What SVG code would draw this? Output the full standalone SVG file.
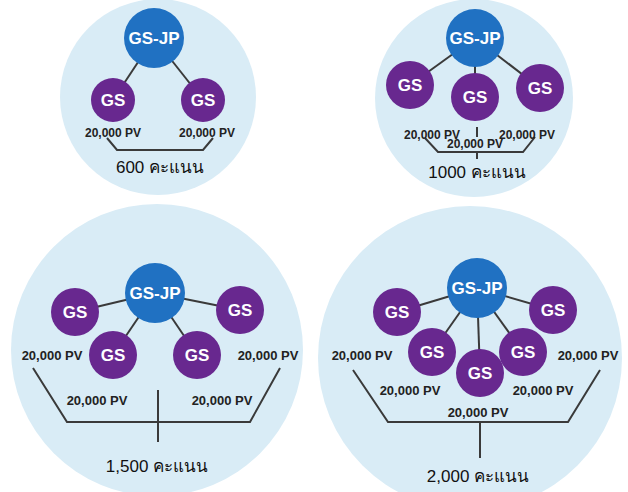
<svg xmlns="http://www.w3.org/2000/svg" width="628" height="492" viewBox="0 0 628 492">
<style>
.bg{fill:#d9ecf6}
.jp{fill:#2071c2}
.gs{fill:#68288f}
.ln{stroke:#3a3a3a;stroke-width:2;fill:none}
.nt{font-family:"Liberation Sans",Arial,sans-serif;font-weight:bold;fill:#ffffff;text-anchor:middle}
.pv{font-family:"Liberation Sans",Arial,sans-serif;font-weight:bold;fill:#222;text-anchor:middle;font-size:12px}
.pb{font-size:13px}
.sc{font-family:"Liberation Sans","Noto Sans",sans-serif;fill:#111;text-anchor:middle;font-size:17px}
</style>
<rect width="628" height="492" fill="#ffffff"/>
<g id="panels">
<circle class="bg" cx="158" cy="97" r="98"/>
<circle class="bg" cx="474" cy="98" r="99"/>
<circle class="bg" cx="157" cy="350" r="146"/>
<circle class="bg" cx="470" cy="358" r="152"/>
</g>
<g id="connectors">
<line class="ln" x1="154" y1="38" x2="113" y2="100"/>
<line class="ln" x1="154" y1="38" x2="203" y2="100"/>
<path class="ln" d="M107 138 L117 150 L203 150 L213 138"/>
<line class="ln" x1="475" y1="38" x2="410" y2="85"/>
<line class="ln" x1="475" y1="38" x2="475" y2="97"/>
<line class="ln" x1="475" y1="38" x2="540" y2="88"/>
<line class="ln" x1="477" y1="127" x2="477" y2="137"/>
<path class="ln" d="M425 138 L438 152 L523 152 L535 137"/>
<line class="ln" x1="477" y1="152" x2="477" y2="159"/>
<line class="ln" x1="155" y1="293" x2="75" y2="312"/>
<line class="ln" x1="155" y1="293" x2="113" y2="355"/>
<line class="ln" x1="155" y1="293" x2="197" y2="355"/>
<line class="ln" x1="155" y1="293" x2="240" y2="310"/>
<path class="ln" d="M33 368 L67 422 L250 422 L280 368"/>
<line class="ln" x1="158" y1="390" x2="158" y2="442"/>
<line class="ln" x1="477" y1="288" x2="397" y2="312"/>
<line class="ln" x1="477" y1="288" x2="432" y2="352"/>
<line class="ln" x1="477" y1="288" x2="480" y2="373"/>
<line class="ln" x1="477" y1="288" x2="523" y2="352"/>
<line class="ln" x1="477" y1="288" x2="553" y2="310"/>
<path class="ln" d="M353 370 L388 422 L568 422 L600 370"/>
<line class="ln" x1="480" y1="422" x2="480" y2="458"/>
</g>
<g id="p1-jp"><circle class="jp" cx="154" cy="38" r="30"/><text class="nt" x="154" y="44" font-size="17">GS-JP</text></g>
<g id="p1-gs1"><circle class="gs" cx="113" cy="100" r="22"/><text class="nt" x="113" y="106" font-size="17">GS</text></g>
<g id="p1-gs2"><circle class="gs" cx="203" cy="100" r="22"/><text class="nt" x="203" y="106" font-size="17">GS</text></g>
<g id="p1-labels">
<text class="pv" x="113" y="137">20,000 PV</text>
<text class="pv" x="207" y="137">20,000 PV</text>
<text class="sc" x="160" y="173">600 คะแนน</text>
</g>
<g id="p2-jp"><circle class="jp" cx="475" cy="38" r="29"/><text class="nt" x="475" y="44" font-size="17">GS-JP</text></g>
<g id="p2-gs1"><circle class="gs" cx="410" cy="85" r="24"/><text class="nt" x="410" y="91" font-size="17">GS</text></g>
<g id="p2-gs2"><circle class="gs" cx="475" cy="97" r="24"/><text class="nt" x="475" y="103" font-size="17">GS</text></g>
<g id="p2-gs3"><circle class="gs" cx="540" cy="88" r="24"/><text class="nt" x="540" y="94" font-size="17">GS</text></g>
<g id="p2-labels">
<text class="pv" x="432" y="139">20,000 PV</text>
<text class="pv" x="527" y="139">20,000 PV</text>
<text class="pv" x="475" y="148" font-size="9.5">20,000 PV</text>
<text class="sc" x="477" y="178">1000 คะแนน</text>
</g>
<g id="p3-jp"><circle class="jp" cx="155" cy="293" r="30"/><text class="nt" x="155" y="299" font-size="17">GS-JP</text></g>
<g id="p3-gs1"><circle class="gs" cx="75" cy="312" r="24"/><text class="nt" x="75" y="318" font-size="17">GS</text></g>
<g id="p3-gs2"><circle class="gs" cx="113" cy="355" r="24"/><text class="nt" x="113" y="361" font-size="17">GS</text></g>
<g id="p3-gs3"><circle class="gs" cx="197" cy="355" r="24"/><text class="nt" x="197" y="361" font-size="17">GS</text></g>
<g id="p3-gs4"><circle class="gs" cx="240" cy="310" r="24"/><text class="nt" x="240" y="316" font-size="17">GS</text></g>
<g id="p3-labels">
<text class="pv pb" x="52" y="360">20,000 PV</text>
<text class="pv pb" x="268" y="360">20,000 PV</text>
<text class="pv pb" x="97" y="405">20,000 PV</text>
<text class="pv pb" x="222" y="405">20,000 PV</text>
<text class="sc" x="157" y="472">1,500 คะแนน</text>
</g>
<g id="p4-jp"><circle class="jp" cx="477" cy="288" r="30"/><text class="nt" x="477" y="294" font-size="17">GS-JP</text></g>
<g id="p4-gs1"><circle class="gs" cx="397" cy="312" r="24"/><text class="nt" x="397" y="318" font-size="17">GS</text></g>
<g id="p4-gs2"><circle class="gs" cx="432" cy="352" r="24"/><text class="nt" x="432" y="358" font-size="17">GS</text></g>
<g id="p4-gs3"><circle class="gs" cx="480" cy="373" r="24"/><text class="nt" x="480" y="379" font-size="17">GS</text></g>
<g id="p4-gs4"><circle class="gs" cx="523" cy="352" r="24"/><text class="nt" x="523" y="358" font-size="17">GS</text></g>
<g id="p4-gs5"><circle class="gs" cx="553" cy="310" r="24"/><text class="nt" x="553" y="316" font-size="17">GS</text></g>
<g id="p4-labels">
<text class="pv pb" x="362" y="360">20,000 PV</text>
<text class="pv pb" x="588" y="360">20,000 PV</text>
<text class="pv pb" x="410" y="395">20,000 PV</text>
<text class="pv pb" x="543" y="395">20,000 PV</text>
<text class="pv pb" x="478" y="417">20,000 PV</text>
<text class="sc" x="478" y="482">2,000 คะแนน</text>
</g>
</svg>
